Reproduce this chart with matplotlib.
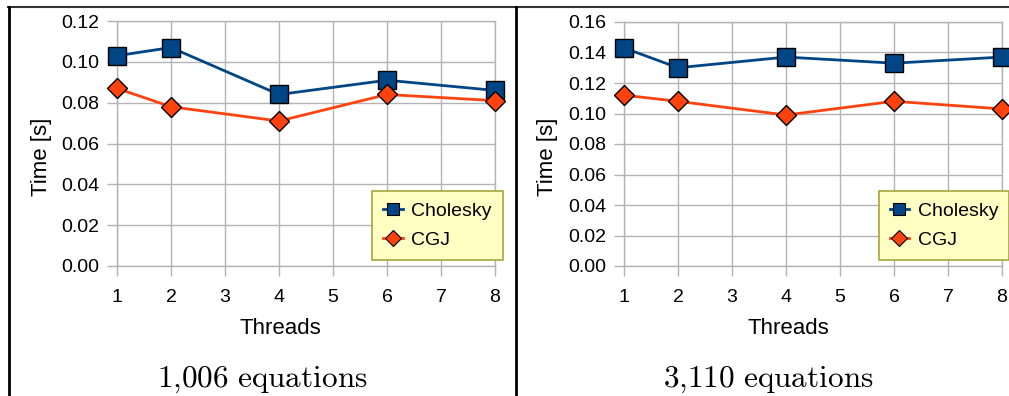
import matplotlib
matplotlib.use("Agg")
import matplotlib.pyplot as plt
from matplotlib.lines import Line2D

plt.rcParams['font.family'] = ['Liberation Sans', 'DejaVu Sans']
plt.rcParams['mathtext.fontset'] = 'cm'

threads = [1, 2, 4, 6, 8]

# 1,006 equations
chol_small = [0.103, 0.107, 0.084, 0.091, 0.086]
cgj_small = [0.087, 0.078, 0.071, 0.084, 0.081]

# 3,110 equations
chol_large = [0.143, 0.130, 0.137, 0.133, 0.137]
cgj_large = [0.112, 0.108, 0.099, 0.108, 0.103]

series_names = ["Cholesky", "CGJ"]
captions = ["1,006 equations", "3,110 equations"]
xticks = [1, 2, 3, 4, 5, 6, 7, 8]
yticks_small = [0.00, 0.02, 0.04, 0.06, 0.08, 0.10, 0.12]
yticks_large = [0.00, 0.02, 0.04, 0.06, 0.08, 0.10, 0.12, 0.14, 0.16]

BLUE = "#004586"
ORANGE = "#ff420e"
GRID = "#b3b3b3"

W, H = 1009, 396
fig = plt.figure(figsize=(W / 100, H / 100), dpi=100)


def fx(px):
    return px / W


def fy(py):
    return 1 - py / H


panels = [
    dict(x0=117, x1=495, y0=21, chol=chol_small, cgj=cgj_small, yt=yticks_small,
         ylab_x=42, xlab_x=280, cap_x=262, leg=(376, 190, 499, 261)),
    dict(x0=624, x1=1002, y0=22, chol=chol_large, cgj=cgj_large, yt=yticks_large,
         ylab_x=548, xlab_x=788, cap_x=768, leg=(882, 190, 1006, 261)),
]

for p, cap in zip(panels, captions):
    y1 = 266
    ax = fig.add_axes([fx(p['x0']), fy(y1), fx(p['x1'] - p['x0']), (y1 - p['y0']) / H])
    ax.set_xlim(1, 8)
    ax.set_ylim(p['yt'][0], p['yt'][-1])
    ax.set_xticks(xticks)
    ax.set_yticks(p['yt'])
    ax.set_yticklabels([f"{v:.2f}" for v in p['yt']])
    ax.grid(True, color=GRID, linewidth=1.0)
    ax.set_axisbelow(True)
    for s in ax.spines.values():
        s.set_color(GRID)
        s.set_linewidth(1.0)
    ax.tick_params(axis='both', colors=GRID, labelcolor='black', labelsize=14,
                   length=7.5, width=1.0, direction='out')
    ax.tick_params(axis='y', pad=5)
    ax.tick_params(axis='x', pad=9)

    ax.plot(threads, p['chol'], color=BLUE, linewidth=2, marker='s', markersize=12.5,
            markerfacecolor=BLUE, markeredgecolor='black', markeredgewidth=1.0,
            clip_on=False, zorder=3)
    ax.plot(threads, p['cgj'], color=ORANGE, linewidth=2, marker='D', markersize=10,
            markerfacecolor=ORANGE, markeredgecolor='black', markeredgewidth=1.0,
            clip_on=False, zorder=3)

    fig.text(fx(p['ylab_x']), fy(157), "Time [s]", rotation=90, fontsize=16,
             ha='center', va='center')
    fig.text(fx(p['xlab_x']), fy(329), "Threads", fontsize=16, ha='center', va='center')
    fig.text(fx(p['cap_x']), fy(380), r"$\mathrm{" + cap.replace(",", "{,}").replace(" ", r"\ ") + "}$",
             fontsize=22.5, ha='center', va='center')

    lx0, ly0, lx1, ly1 = p['leg']
    handles = [
        Line2D([], [], color=BLUE, linewidth=2, marker='s', markersize=9,
               markerfacecolor=BLUE, markeredgecolor='black', markeredgewidth=0.8),
        Line2D([], [], color=ORANGE, linewidth=2, marker='D', markersize=8,
               markerfacecolor=ORANGE, markeredgecolor='black', markeredgewidth=0.8),
    ]
    leg = fig.legend(handles, series_names, loc='center',
                     bbox_to_anchor=(fx((lx0 + lx1) / 2), fy((ly0 + ly1) / 2)),
                     fontsize=14, frameon=True, fancybox=False, handlelength=1.0,
                     handletextpad=0.45, borderpad=0.55, borderaxespad=0,
                     labelspacing=0.6)
    fr = leg.get_frame()
    fr.set_facecolor("#ffffc4")
    fr.set_edgecolor("#a6a640")
    fr.set_linewidth(1.2)
    fr.set_alpha(1)

# Surrounding frame lines
fig.add_artist(Line2D([fx(8), fx(1008)], [fy(7), fy(7)], color="#333333", linewidth=1.5))
fig.add_artist(Line2D([fx(8.5), fx(8.5)], [fy(7), 0], color="black", linewidth=2))
fig.add_artist(Line2D([fx(515.5), fx(515.5)], [fy(7), 0], color="black", linewidth=2))

fig.savefig("out.png", dpi=100)
